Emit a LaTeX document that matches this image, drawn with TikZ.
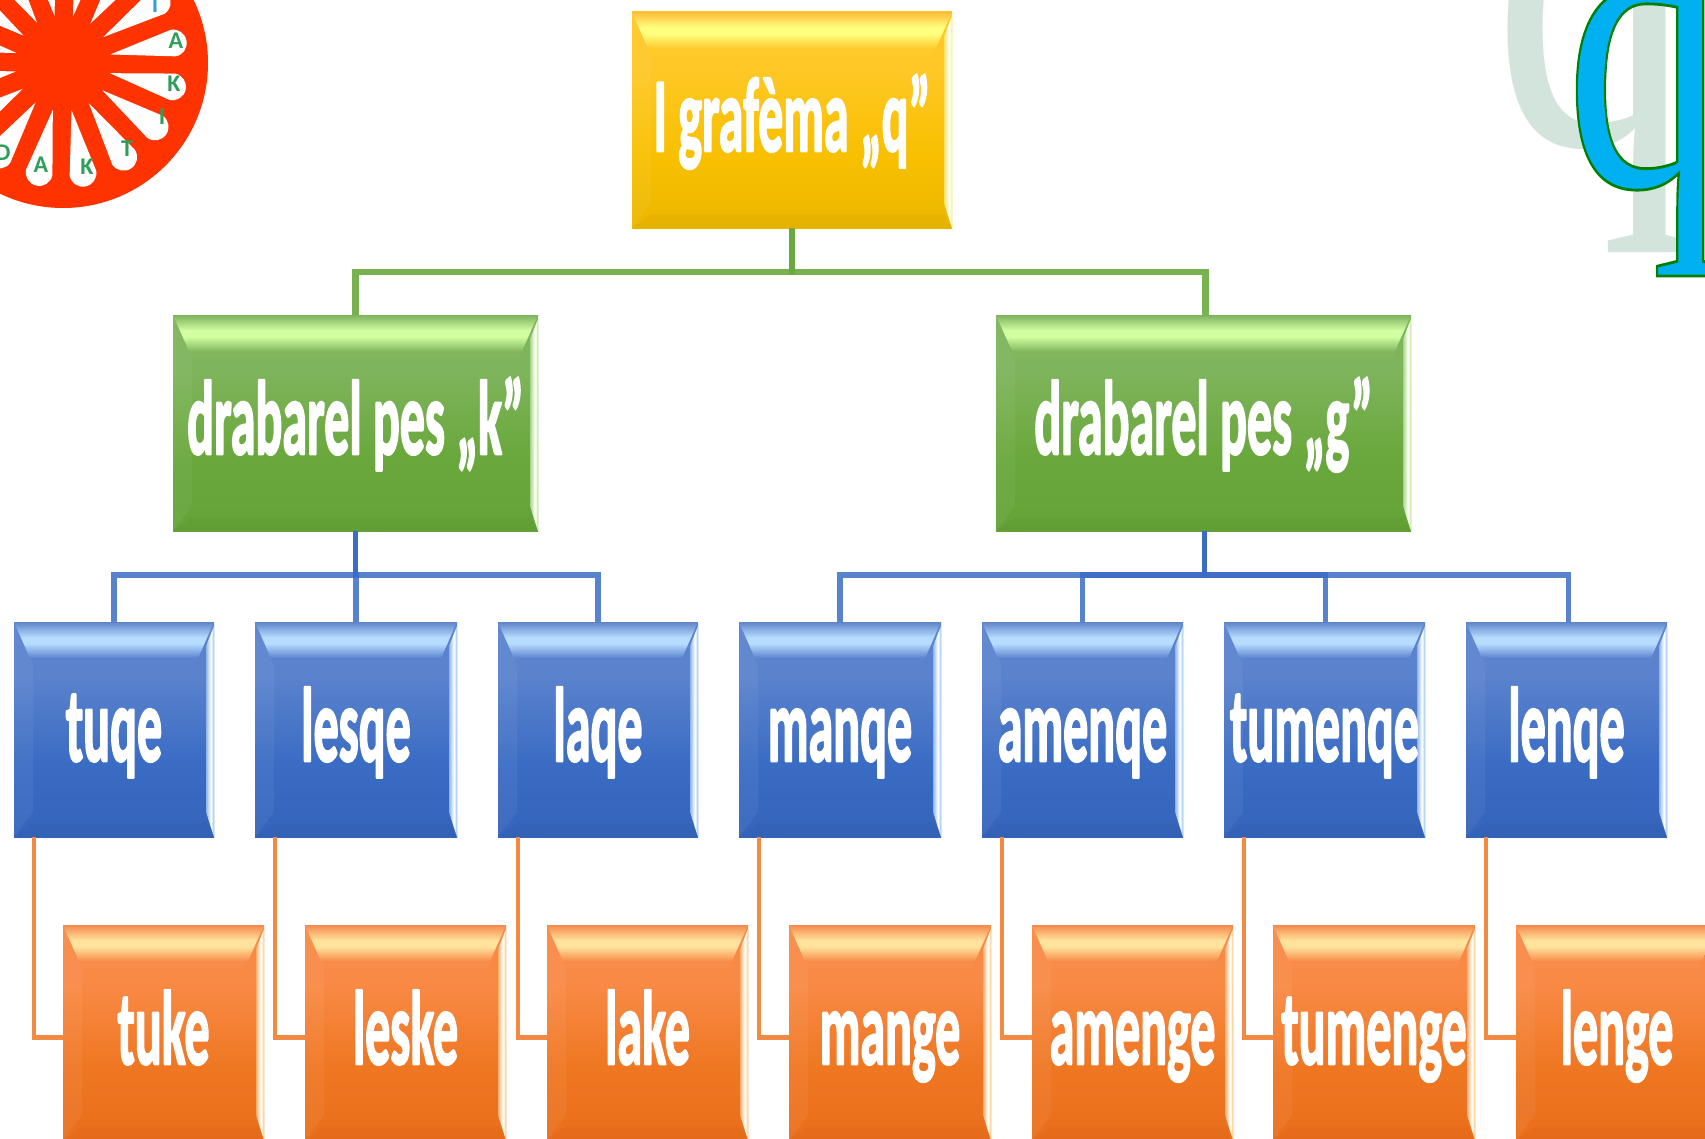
\documentclass[tikz,border=0pt]{standalone}
\usepackage{fontspec}
\usetikzlibrary{calc,fit}
\setmainfont{Carlito}[Ligatures=NoCommon]
\newfontfamily\qfont{Liberation Serif}
\newfontfamily\wheelfont{Carlito}
\newcommand{\defpalette}[9]{%
  \definecolor{#1A}{HTML}{#2}\definecolor{#1B}{HTML}{#3}\definecolor{#1C}{HTML}{#4}%
  \definecolor{#1D}{HTML}{#5}\definecolor{#1E}{HTML}{#6}\definecolor{#1F}{HTML}{#7}%
  \definecolor{#1G}{HTML}{#8}\definecolor{#1H}{HTML}{#9}%
  \pgfdeclareverticalshading{top#1}{100bp}{color(0bp)=(#1C); color(25bp)=(#1C); color(33bp)=(#1C); color(50bp)=(#1B); color(57bp)=(#1B); color(75bp)=(#1A); color(100bp)=(#1A)}%
  \pgfdeclareverticalshading{face#1}{100bp}{color(0bp)=(#1F); color(25bp)=(#1F); color(42bp)=(#1E); color(62bp)=(#1D); color(75bp)=(#1D); color(100bp)=(#1D)}%
  \pgfdeclarehorizontalshading{strip#1}{100bp}{color(0bp)=(#1H); color(25bp)=(#1H); color(55bp)=(white); color(65bp)=(#1G); color(75bp)=(#1H); color(100bp)=(#1H)}%
}
\defpalette{gold}{FFBC38}{FFFF80}{FFCA2C}{FFC826}{F8C000}{ECB700}{FFFFC8}{FFE060}
\defpalette{grn}{7FB15E}{D2FFA2}{82B75E}{7EB45B}{69A83C}{64A338}{E6FFC8}{A8D488}
\defpalette{blu}{5F84C8}{B6DCFF}{5B83CE}{5A82CD}{3A6CC4}{3464BA}{CDE8FF}{8FB4E8}
\defpalette{org}{F5894E}{FFE39C}{F88C4A}{F98A46}{EF7722}{EA6E1B}{FFEFC0}{F9B070}
\tikzset{
  x=0.75pt,y=-0.75pt,
  boxface/.style={inner sep=0pt,outer sep=0pt,shade},
  boxtext/.style={anchor=base,inner sep=0pt,text=white,font=\fontsize{79}{86}\selectfont\bfseries},
  greenline/.style={draw=grnE,line width=4.6pt,opacity=.9},
  blueline/.style={draw=bluE,line width=3.8pt,opacity=.85},
  orangeline/.style={draw=orgE!85!white,line width=3.4pt},
  wheelletter/.style={inner sep=0pt,font=\wheelfont\fontsize{18}{18}\selectfont\bfseries,text=wheelgreen},
  petal/.style={fill=white},
}
\definecolor{wheelred}{HTML}{FF3300}
\definecolor{wheelgreen}{HTML}{2E9E5A}
\definecolor{wheelblue}{HTML}{3C9AD8}
\definecolor{qblue}{HTML}{00B0F0}
\definecolor{qpale}{HTML}{D3E4DC}
\newcommand{\bevelbox}[7]{%
  \coordinate (#1-a) at (#2,#3); \coordinate (#1-b) at (#4,#5);
  \node[fit=(#1-a)(#1-b),boxface,shading=face#6] (#1) {};
  \shade[shading=top#6] (#2,#3) -- (#4,#3) -- (#4-19,#3+43) -- (#2+19,#3+43) -- cycle;
  \fill[white,opacity=.05] (#2,#3) -- (#2+19,#3+43) -- (#2+19,#5-25) -- (#2,#5) -- cycle;
  \fill[black,opacity=.025] (#2,#5) -- (#2+19,#5-14) -- (#4-8,#5-14) -- (#4,#5) -- cycle;
  \shade[shading=strip#6] (#4,#3+4) -- (#4-8,#3+24) -- (#4-8,#5-25) -- (#4,#5) -- cycle;
  \node[boxtext] (#1-t) at ({(#2+#4)/2},#3+139) {\scalebox{0.475}[1]{\special{pdf:code q 1 1 1 RG 1 j 2 w 2 Tr}#7\special{pdf:code 0 Tr Q}}};
}
\begin{document}
\begin{tikzpicture}
\useasboundingbox (0,0) rectangle (1705,1138);
\clip (0,0) rectangle (1705,1138);
% Wheel
\fill[wheelred] (63,63) circle[radius=145];
\foreach \a in {11.25,33.75,...,348.75} {
  \begin{scope}[shift={(63,63)},rotate=\a-1]
    \fill[petal] (48,0) -- (112,13.5) arc[start angle=90,end angle=-90,radius=13.5] -- cycle;
  \end{scope}
}
\fill[wheelred] (63,63) circle[radius=41];
\node[wheelletter,text=wheelblue] (w0) at (155,5) {I};
\node[wheelletter] (w1) at (176,41) {A};
\node[wheelletter] (w2) at (174,84) {K};
\node[wheelletter] (w3) at (162,117) {I};
\node[wheelletter] (w4) at (127,149) {T};
\node[wheelletter] (w5) at (87,167) {K};
\node[wheelletter] (w6) at (41,165) {A};
\node[wheelletter] (w7) at (3,153) {D};
% big q letters
\node[anchor=base west,inner sep=0pt,text=qpale] (qback) at (1493,144)
  {\scalebox{1}[1.27]{\qfont\fontsize{300}{300}\selectfont q}};
\node[anchor=base west,inner sep=0pt,text=qblue] (qfront) at (1565,186)
  {\scalebox{1}[1.32]{\special{pdf:code q 0 0.5 0 RG 1.6 w 2 Tr}\qfont\fontsize{240}{240}\selectfont q\special{pdf:code 0 Tr Q}}};
% nodes
\bevelbox{root}{632}{12}{952}{228}{gold}{I grafèma „q”}
\bevelbox{kk}{173}{315}{538}{531}{grn}{drabarel pes „k”}
\bevelbox{gg}{996}{315}{1411}{531}{grn}{drabarel pes „g”}
\bevelbox{b1}{14}{622}{214}{837}{blu}{tuqe}
\bevelbox{b2}{255}{622}{457}{837}{blu}{lesqe}
\bevelbox{b3}{498}{622}{698}{837}{blu}{laqe}
\bevelbox{b4}{739}{622}{941}{837}{blu}{manqe}
\bevelbox{b5}{982}{622}{1183}{837}{blu}{amenqe}
\bevelbox{b6}{1224}{622}{1425}{837}{blu}{tumenqe}
\bevelbox{b7}{1466}{622}{1667}{837}{blu}{lenqe}
\bevelbox{o1}{63}{925}{264}{1140}{org}{tuke}
\bevelbox{o2}{305}{925}{506}{1140}{org}{leske}
\bevelbox{o3}{547}{925}{748}{1140}{org}{lake}
\bevelbox{o4}{789}{925}{991}{1140}{org}{mange}
\bevelbox{o5}{1032}{925}{1233}{1140}{org}{amenge}
\bevelbox{o6}{1273}{925}{1475}{1140}{org}{tumenge}
\bevelbox{o7}{1516}{925}{1718}{1140}{org}{lenge}
% connectors
\draw[greenline] (root.south) -- ++(0,44) -| (kk.north);
\draw[greenline] (root.south) -- ++(0,44) -| ($(gg.north)+(2,0)$);
\foreach \c in {b1,b2,b3} \draw[blueline] (kk.south) -- ++(0,44) -| (\c.north);
\draw[blueline] ($(gg.south)+(1,0)$) -- ++(0,44) -| (b4.north);
\draw[blueline] ($(gg.south)+(1,0)$) -- ++(0,44) -| (b5.north);
\draw[blueline] ($(gg.south)+(1,0)$) -- ++(0,44) -| ($(b6.north)+(1,0)$);
\draw[blueline] ($(gg.south)+(1,0)$) -- ++(0,44) -| ($(b7.north)+(2,0)$);
\foreach \i in {1,...,7}
  \draw[orangeline] ($(b\i.south west)+(20,0)$) |- ($(o\i.west)+(0,5)$);
\end{tikzpicture}
\end{document}
